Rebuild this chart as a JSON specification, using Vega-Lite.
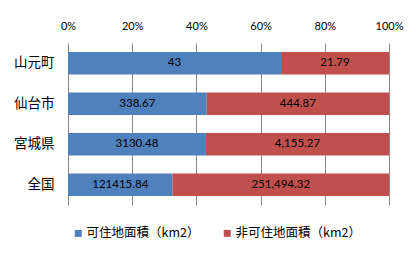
{
  "$schema": "https://vega.github.io/schema/vega-lite/v6.json",
  "autosize": {"type": "none"},
  "width": 321,
  "height": 162,
  "padding": {"left": 68, "top": 43, "right": 31, "bottom": 48},
  "background": "white",
  "data": {"values": [
    {"region": "山元町", "series": "可住地面積（km2）", "value": 43, "label": "43"},
    {"region": "山元町", "series": "非可住地面積（km2）", "value": 21.79, "label": "21.79"},
    {"region": "仙台市", "series": "可住地面積（km2）", "value": 338.67, "label": "338.67"},
    {"region": "仙台市", "series": "非可住地面積（km2）", "value": 444.87, "label": "444.87"},
    {"region": "宮城県", "series": "可住地面積（km2）", "value": 3130.48, "label": "3130.48"},
    {"region": "宮城県", "series": "非可住地面積（km2）", "value": 4155.27, "label": "4,155.27"},
    {"region": "全国", "series": "可住地面積（km2）", "value": 121415.84, "label": "121415.84"},
    {"region": "全国", "series": "非可住地面積（km2）", "value": 251494.32, "label": "251,494.32"}
  ]},
  "transform": [
    {"stack": "value", "groupby": ["region"], "sort": [{"field": "series", "order": "ascending"}], "offset": "normalize", "as": ["x0", "x1"]},
    {"calculate": "(datum.x0 + datum.x1) / 2", "as": "xm"}
  ],
  "encoding": {
    "y": {
      "field": "region", "type": "nominal",
      "sort": ["山元町", "仙台市", "宮城県", "全国"],
      "scale": {"paddingInner": 0.45, "paddingOuter": 0.225},
      "axis": {"title": null, "domain": false, "ticks": false, "labelPadding": 14, "labelFontSize": 13.5, "labelColor": "#000000", "labelFont": "Noto Sans CJK JP"}
    }
  },
  "layer": [
    {
      "mark": {"type": "bar"},
      "encoding": {
        "x": {
          "field": "x0", "type": "quantitative",
          "scale": {"domain": [0, 1]},
          "axis": {"orient": "top", "title": null, "format": ".0%", "values": [0, 0.2, 0.4, 0.6, 0.8, 1], "domain": false, "ticks": false, "grid": true, "gridColor": "#868686", "gridOpacity": 1, "labelPadding": 12, "labelFontSize": 11, "labelColor": "#000000", "labelFont": "Lato", "labelFlush": false}
        },
        "x2": {"field": "x1"},
        "color": {
          "field": "series", "type": "nominal",
          "scale": {"domain": ["可住地面積（km2）", "非可住地面積（km2）"], "range": ["#4F81BD", "#C0504D"]},
          "legend": {"title": null, "orient": "none", "legendX": 4, "legendY": 184, "direction": "horizontal", "symbolType": "square", "symbolSize": 49, "symbolStrokeWidth": 0, "labelFontSize": 12.5, "labelFont": "Noto Sans CJK JP", "labelColor": "#000000", "columnPadding": 21, "labelLimit": 200, "labelOffset": 2}
        }
      }
    },
    {
      "mark": {"type": "text", "fontSize": 11.5, "font": "Lato", "color": "#000000", "baseline": "middle", "align": "center"},
      "encoding": {
        "x": {"field": "xm", "type": "quantitative"},
        "text": {"field": "label", "type": "nominal"}
      }
    }
  ],
  "config": {"view": {"stroke": null}}
}
